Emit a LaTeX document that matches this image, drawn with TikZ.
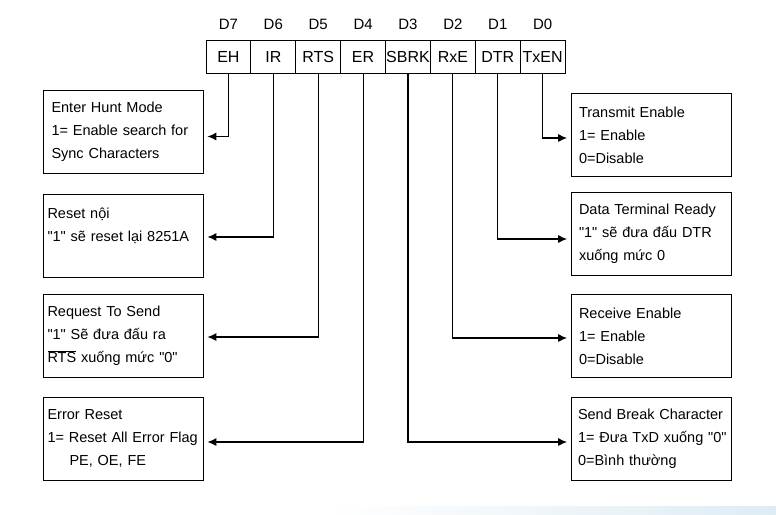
\documentclass[tikz,border=0pt]{standalone}
\usepackage{fontspec}
\newfontfamily\boxfont{Liberation Sans}
\usepackage{tikz}
\usetikzlibrary{arrows.meta}
\definecolor{stripblue}{RGB}{222,236,244}

\begin{document}
\begin{tikzpicture}[x=1pt,y=-1pt,
	cell/.style={draw,thick,minimum width=44.9pt,minimum height=33pt,inner sep=0pt,font=\boxfont\fontsize{16}{18}\selectfont},
	bitlbl/.style={anchor=base,font=\boxfont\fontsize{15}{18}\selectfont},
	box/.style={draw,thick,minimum width=160pt,minimum height=83pt,text width=151pt,inner xsep=4.5pt,align=left,font=\boxfont\fontsize{14.5}{23}\selectfont},
	arr/.style={line width=1.1pt,-{Latex[length=9pt,width=8pt]},shorten >=4pt}]
	\useasboundingbox (0,0) rectangle (776,514);
	\shade[left color=white,right color=stripblue] (327,506) rectangle (776,514); % faint strip
	% register bits D7..D0
	\foreach \nm/\txt/\bit [count=\i from 0] in {eh/EH/7,ir/IR/6,rts/RTS/5,er/ER/4,sbrk/SBRK/3,rxe/RxE/2,dtr/DTR/1,txen/TxEN/0}{
		\node[cell] (\nm) at ({228.4+44.9*\i},56.5) {\txt};
		\node[bitlbl] (d\bit) at ({228.4+44.9*\i},29.5) {D\bit};
	}
	% left column
	\node[box] (hunt) at (123,131.5) {\hspace*{4pt}Enter Hunt Mode\\\hspace*{4pt}1= Enable search for\\\hspace*{4pt}Sync Characters};
	\node[box] (resetin) at (123,236) {Reset nội\\"1" sẽ reset lại 8251A\\~};
	\node[box] (reqsend) at (123,336) {Request To Send\\"1" Sẽ đưa đấu ra\\$\overline{\mbox{RTS}}$ xuống mức "0"};
	\node[box] (errreset) at (123,438.5) {Error Reset\\1= Reset All Error Flag\\\hspace*{22pt}PE, OE, FE};
	% right column
	\node[box] (txenable) at (651.5,135) {\hspace*{3pt}Transmit Enable\\\hspace*{3pt}1= Enable\\\hspace*{3pt}0=Disable};
	\node[box] (dtready) at (651.5,234) {\hspace*{3pt}Data Terminal Ready\\\hspace*{3pt}"1" sẽ đưa đấu DTR\\\hspace*{3pt}xuống mức 0};
	\node[box] (rxenable) at (651.5,336) {\hspace*{3pt}Receive Enable\\\hspace*{3pt}1= Enable\\\hspace*{3pt}0=Disable};
	\node[box] (sendbrk) at (651.5,438.5) {\hspace*{2pt}Send Break Character\\\hspace*{2pt}1= Đưa TxD xuống "0"\\\hspace*{2pt}0=Bình thường};
	% connectors
	\draw[arr] (eh.south) |- ([yshift=-5pt]hunt.east);
	\draw[arr] (ir.south) |- ([yshift=-1pt]resetin.east);
	\draw[arr] (rts.south) |- ([yshift=-1pt]reqsend.east);
	\draw[arr] (er.south) |- ([yshift=-3.5pt]errreset.east);
	\draw[arr] (sbrk.south) |- ([yshift=-3.5pt]sendbrk.west);
	\draw[arr] (rxe.south) |- ([yshift=-2pt]rxenable.west);
	\draw[arr] (dtr.south) |- ([yshift=-5pt]dtready.west);
	\draw[arr] (txen.south) |- ([yshift=-3pt]txenable.west);
\end{tikzpicture}
\end{document}
